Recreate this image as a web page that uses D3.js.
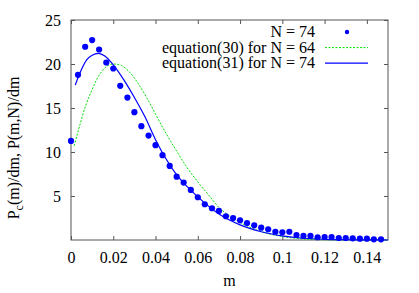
<!DOCTYPE html>
<html>
<head>
<meta charset="utf-8">
<script src="https://cdn.jsdelivr.net/npm/d3@7/dist/d3.min.js"></script>
<style>
  html, body { margin: 0; padding: 0; background: #fff; }
  svg { display: block; }
  svg text { font-family: "Liberation Serif", "Times New Roman", Times, "DejaVu Serif", serif; }
</style>
</head>
<body>
<div id="chart"></div>
<script>
// simulated N = 74 (points)
const mValues = [0, 0.0033, 0.0067, 0.01, 0.0133, 0.0167, 0.02, 0.0233, 0.0267, 0.03,
  0.0333, 0.0367, 0.04, 0.0433, 0.0467, 0.05, 0.0533, 0.0567, 0.06, 0.0633,
  0.0667, 0.07, 0.0733, 0.0767, 0.08, 0.0833, 0.0867, 0.09, 0.0933, 0.0967,
  0.1, 0.1033, 0.1067, 0.11, 0.1133, 0.1167, 0.12, 0.1233, 0.1267, 0.13,
  0.1333, 0.1367, 0.14, 0.1433, 0.1467];
const simValues = [11.26, 18.77, 21.96, 22.72, 21.65, 20.17, 19.49, 17.52, 16.19, 14.53,
  12.94, 11.87, 10.77, 9.64, 8.42, 7.20, 6.52, 5.69, 4.86, 4.06,
  3.61, 3.30, 2.70, 2.50, 2.24, 1.93, 1.67, 1.40, 1.22, 0.94,
  0.88, 0.94, 0.57, 0.46, 0.46, 0.31, 0.34, 0.34, 0.23, 0.23,
  0.19, 0.15, 0.15, 0.08, 0.08];

// equation(30) for N = 64 (green dashed)
const eq30M = [0.0015, 0.004, 0.007, 0.01, 0.013, 0.016, 0.02, 0.024, 0.028, 0.032,
  0.036, 0.04, 0.045, 0.05, 0.055, 0.06, 0.065, 0.07, 0.075, 0.08,
  0.09, 0.1, 0.11, 0.12, 0.13, 0.15];
const eq30Values = [10.7, 12.9, 15.3, 17.1, 18.6, 19.55, 20.0, 19.8, 19.0, 17.7,
  16.1, 14.3, 12.1, 10.1, 8.2, 6.6, 5.15, 3.7, 2.75, 2.0,
  0.95, 0.4, 0.12, 0.03, 0, 0];

// equation(31) for N = 74 (blue solid)
const eq31M = [0.002, 0.005, 0.0075, 0.01, 0.013, 0.016, 0.02, 0.025, 0.03, 0.035,
  0.04, 0.045, 0.05, 0.055, 0.06, 0.07, 0.08, 0.09, 0.1, 0.11,
  0.12, 0.13, 0.14, 0.15];
const eq31Values = [17.6, 19.4, 20.5, 21.0, 21.2, 20.9, 19.9, 18.2, 16.2, 14.0,
  11.4, 9.2, 7.4, 6.06, 4.9, 2.95, 1.72, 0.94, 0.47, 0.2,
  0.08, 0.03, 0.01, 0];

const xTicks = [0, 0.02, 0.04, 0.06, 0.08, 0.1, 0.12, 0.14];
const yTicks = [5, 10, 15, 20, 25];
const legendLabels = ["N = 74", "equation(30) for N = 64", "equation(31) for N = 74"];

(function() {
  const width = 419;
  const height = 293;
  const margin = { top: 20, right: 31, bottom: 53, left: 71 };
  const iw = width - margin.left - margin.right;
  const ih = height - margin.top - margin.bottom;

  const blue = "#0000ff";
  const green = "#00e000";
  const frame = "#555";
  const serif = "'Liberation Serif', 'Times New Roman', Times, 'DejaVu Serif', serif";

  const svg = d3.select("#chart").append("svg")
    .attr("width", width)
    .attr("height", height)
    .attr("font-family", serif);

  const g = svg.append("g").attr("transform", `translate(${margin.left},${margin.top})`);

  const x = d3.scaleLinear().domain([0, 0.15]).range([0, iw]);
  const y = d3.scaleLinear().domain([0, 25]).range([ih, 0]);

  // ===== Axes =====
  const tickLen = 4;
  const fmtX = d => d === 0 ? "0" : String(+d.toFixed(2));

  const xAxis = g.append("g")
    .attr("transform", `translate(0,${ih})`)
    .call(d3.axisBottom(x).tickValues(xTicks).tickSize(-tickLen).tickPadding(12).tickFormat(fmtX));
  const xTop = g.append("g")
    .call(d3.axisTop(x).tickValues(xTicks).tickSize(-tickLen).tickFormat(""));
  const yAxis = g.append("g")
    .call(d3.axisLeft(y).tickValues(yTicks).tickSize(-tickLen).tickPadding(10));
  const yRight = g.append("g")
    .attr("transform", `translate(${iw},0)`)
    .call(d3.axisRight(y).tickValues(yTicks).tickSize(-tickLen).tickFormat(""));

  [xAxis, xTop, yAxis, yRight].forEach(a => {
    a.attr("font-family", serif).attr("font-size", 16);
    a.select(".domain").remove();
    a.selectAll(".tick line").attr("stroke", frame);
    a.selectAll(".tick text").attr("fill", "#000");
  });

  g.append("rect")
    .attr("width", iw)
    .attr("height", ih)
    .attr("fill", "none")
    .attr("stroke", frame)
    .attr("stroke-width", 1);

  // ===== Curves =====
  const line = d3.line()
    .x(d => x(d[0]))
    .y(d => y(d[1]))
    .curve(d3.curveMonotoneX);

  g.append("path")
    .datum(eq30M.map((m, i) => [m, eq30Values[i]]))
    .attr("d", line)
    .attr("fill", "none")
    .attr("stroke", green)
    .attr("stroke-width", 1)
    .attr("stroke-dasharray", "2,1.5");

  g.append("path")
    .datum(eq31M.map((m, i) => [m, eq31Values[i]]))
    .attr("d", line)
    .attr("fill", "none")
    .attr("stroke", blue)
    .attr("stroke-width", 1.2);

  g.append("g")
    .selectAll("circle")
    .data(mValues.map((m, i) => [m, simValues[i]]))
    .join("circle")
    .attr("cx", d => x(d[0]))
    .attr("cy", d => y(d[1]))
    .attr("r", 3.1)
    .attr("fill", blue);

  // ===== Legend =====
  const legend = svg.append("g").attr("transform", "translate(315,32)");
  const rowH = 15.6;
  legend.selectAll("text")
    .data(legendLabels)
    .join("text")
    .attr("x", 0)
    .attr("y", (d, i) => i * rowH)
    .attr("dy", "0.33em")
    .attr("text-anchor", "end")
    .attr("font-size", 16)
    .text(d => d);

  legend.append("circle")
    .attr("cx", 32)
    .attr("cy", 0)
    .attr("r", 2.2)
    .attr("fill", blue);
  legend.append("line")
    .attr("x1", 10).attr("x2", 53)
    .attr("y1", rowH).attr("y2", rowH)
    .attr("stroke", green)
    .attr("stroke-dasharray", "2,1.5");
  legend.append("line")
    .attr("x1", 10).attr("x2", 53)
    .attr("y1", 2 * rowH).attr("y2", 2 * rowH)
    .attr("stroke", blue)
    .attr("stroke-width", 1.2);

  // ===== Axis titles =====
  svg.append("text")
    .attr("x", margin.left + iw / 2)
    .attr("y", 286)
    .attr("text-anchor", "middle")
    .attr("font-size", 16)
    .text("m");

  const yTitle = svg.append("text")
    .attr("transform", "translate(19,148) rotate(-90)")
    .attr("text-anchor", "middle")
    .attr("font-size", 16);
  yTitle.append("tspan").text("P");
  yTitle.append("tspan").attr("dy", 4).attr("font-size", 12).text("c");
  yTitle.append("tspan").attr("dy", -4).text("(m)/dm, P(m,N)/dm");
})();
</script>
</body>
</html>
